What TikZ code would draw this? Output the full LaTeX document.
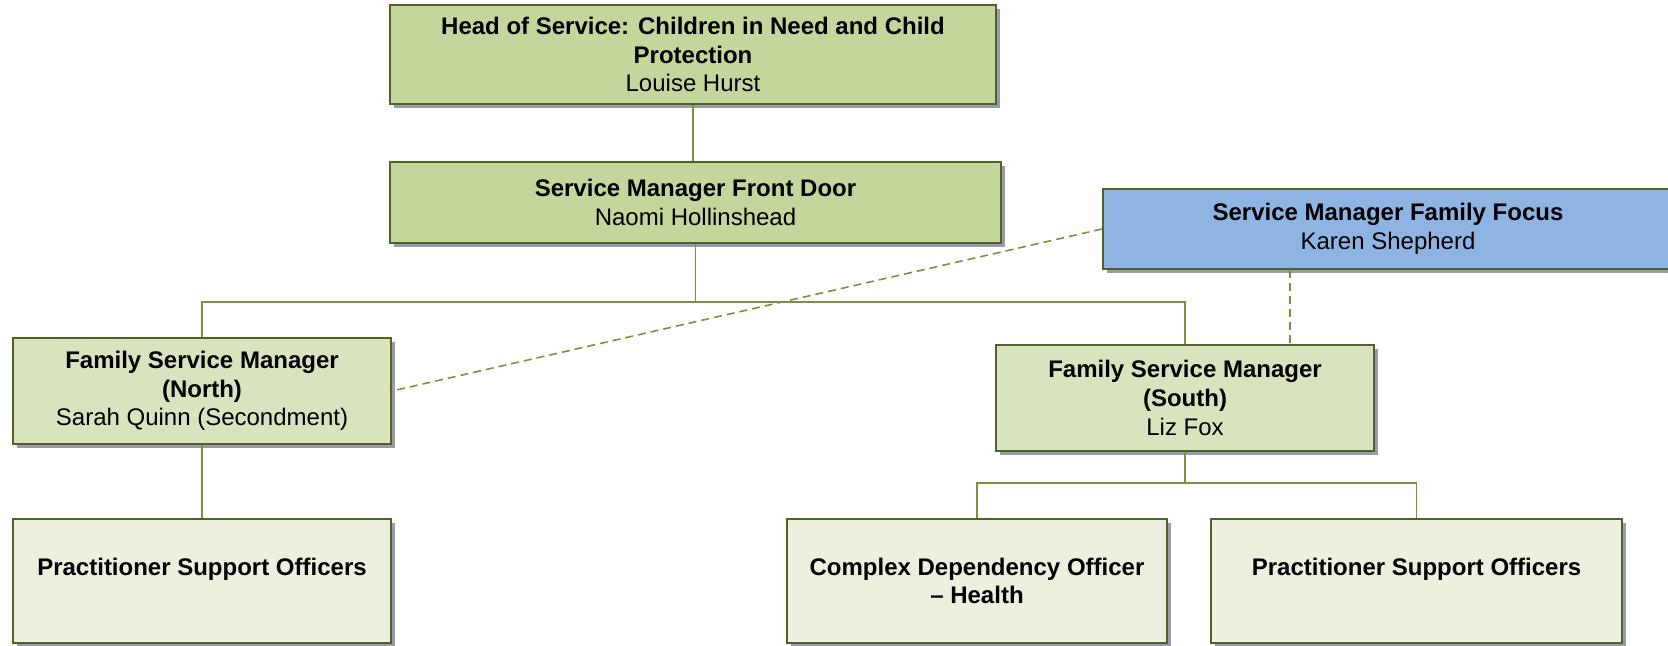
\documentclass[tikz,border=0pt]{standalone}
\usepackage{fontspec}
\setmainfont{Liberation Sans}
\usetikzlibrary{shadows}
\definecolor{orgborder}{RGB}{79, 98, 40}
\definecolor{orgline}{RGB}{119, 147, 60}
\definecolor{orgshadow}{RGB}{158, 152, 172}
\definecolor{orghead}{RGB}{195, 214, 155}
\definecolor{orgmid}{RGB}{216, 228, 189}
\definecolor{orglow}{RGB}{235, 241, 222}
\definecolor{orgblue}{RGB}{142, 180, 227}

\begin{document}
\begin{tikzpicture}[x=0.5pt, y=-0.5pt,
    post/.style={draw=orgborder, line width=1pt, align=center, inner sep=2pt,
        font=\fontsize{12}{14.3}\selectfont\bfseries,
        drop shadow={shadow xshift=2pt, shadow yshift=-2pt, fill=orgshadow, opacity=1}},
    link/.style={draw=orgline, line width=0.6pt},
    dotlink/.style={draw=orgline, line width=0.8pt, dash pattern=on 4pt off 2.5pt}]
\useasboundingbox (0,0) rectangle (1668,645);
% top of the chart
\node[post, fill=orghead, minimum width=303pt, minimum height=49.5pt] (head) at (693,54.5)
    {Head of Service: Children in Need and Child\\Protection\\{\mdseries Louise Hurst}};
\node[post, fill=orghead, minimum width=305.5pt, minimum height=40.5pt] (door) at (695.5,202.5)
    {Service Manager Front Door\\{\mdseries Naomi Hollinshead}};
\node[post, fill=orgblue, minimum width=285pt, minimum height=40pt] (focus) at (1388,229)
    {Service Manager Family Focus\\{\mdseries Karen Shepherd}};
% family service managers
\node[post, fill=orgmid, minimum width=189pt, minimum height=53pt] (north) at (202,391)
    {Family Service Manager\\(North)\\{\mdseries Sarah Quinn (Secondment)}};
\node[post, fill=orgmid, minimum width=189pt, minimum height=53pt] (south) at (1185,398)
    {Family Service Manager\\(South)\\{\mdseries Liz Fox}};
% teams
\node[post, fill=orglow, minimum width=189pt, minimum height=62pt] (psonorth) at (202,581)
    {Practitioner Support Officers\\~};
\node[post, fill=orglow, minimum width=190pt, minimum height=62pt] (cdo) at (977,581)
    {Complex Dependency Officer\\– Health};
\node[post, fill=orglow, minimum width=205.5pt, minimum height=62pt] (psosouth) at (1416.5,581)
    {Practitioner Support Officers\\~};

% connectors
\path (door.south) ++(0,58) coordinate (doorbus);
\path (south.south) ++(0,31) coordinate (southbus);
\draw[link] (head.south) -- (head.south |- door.north);
\draw[link] (door.south) -- (doorbus);
\draw[link] (north.north) |- (doorbus) -| (south.north);
\draw[link] (north.south) -- (psonorth.north);
\draw[link] (south.south) -- (southbus);
\draw[link] (cdo.north) |- (southbus) -| (psosouth.north);
\draw[dotlink] (focus.west) -- (north.east);
\draw[dotlink] ([xshift=-49pt]focus.south) -- ([xshift=-49pt]focus.south |- south.north);
\end{tikzpicture}
\end{document}
